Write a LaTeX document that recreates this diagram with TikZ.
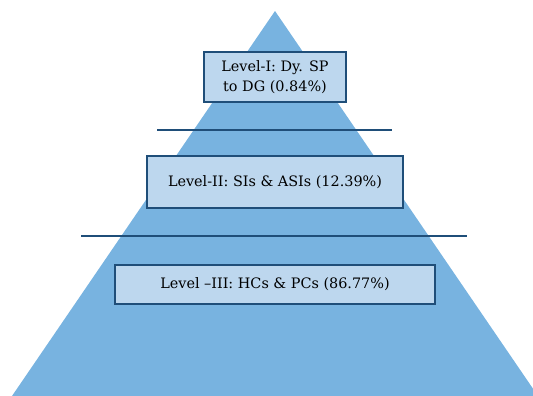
\documentclass[tikz,border=0pt]{standalone}
\usepackage{fontspec}
\setmainfont{DejaVu Serif}
\definecolor{pyrblue}{HTML}{78B3E0}
\definecolor{levelfill}{HTML}{BDD7EE}
\definecolor{leveldraw}{HTML}{1F4E79}

\tikzstyle{level} = [draw=leveldraw, fill=levelfill, line width=1.1pt,
  rectangle, align=center, inner sep=0pt, font=\fontsize{10.8}{15}\selectfont]
\tikzstyle{divider} = [draw=leveldraw, line width=0.8pt]

\begin{document}
\begin{tikzpicture}[x=0.75pt, y=-0.75pt]
        \useasboundingbox (0,0) rectangle (533,396);
        \clip (0,0) rectangle (533,396);
        \fill[pyrblue] (275,11) -- (12,396) -- (538,396) -- cycle;

        \node [level, minimum width=106.5pt, minimum height=37.5pt] (level1) at (275,77)
          {Level-I: Dy. SP\\to DG (0.84\%)};
        \node [level, minimum width=192pt, minimum height=39pt] (level2) at (275,182)
          {Level-II: SIs \& ASIs (12.39\%)};
        \node [level, minimum width=240pt, minimum height=29pt] (level3) at (275,284.5)
          {Level --III: HCs \& PCs (86.77\%)};

        \draw[divider] (157,130) -- (392,130);
        \draw[divider] (81,236) -- (467,236);
      \end{tikzpicture}
\end{document}
